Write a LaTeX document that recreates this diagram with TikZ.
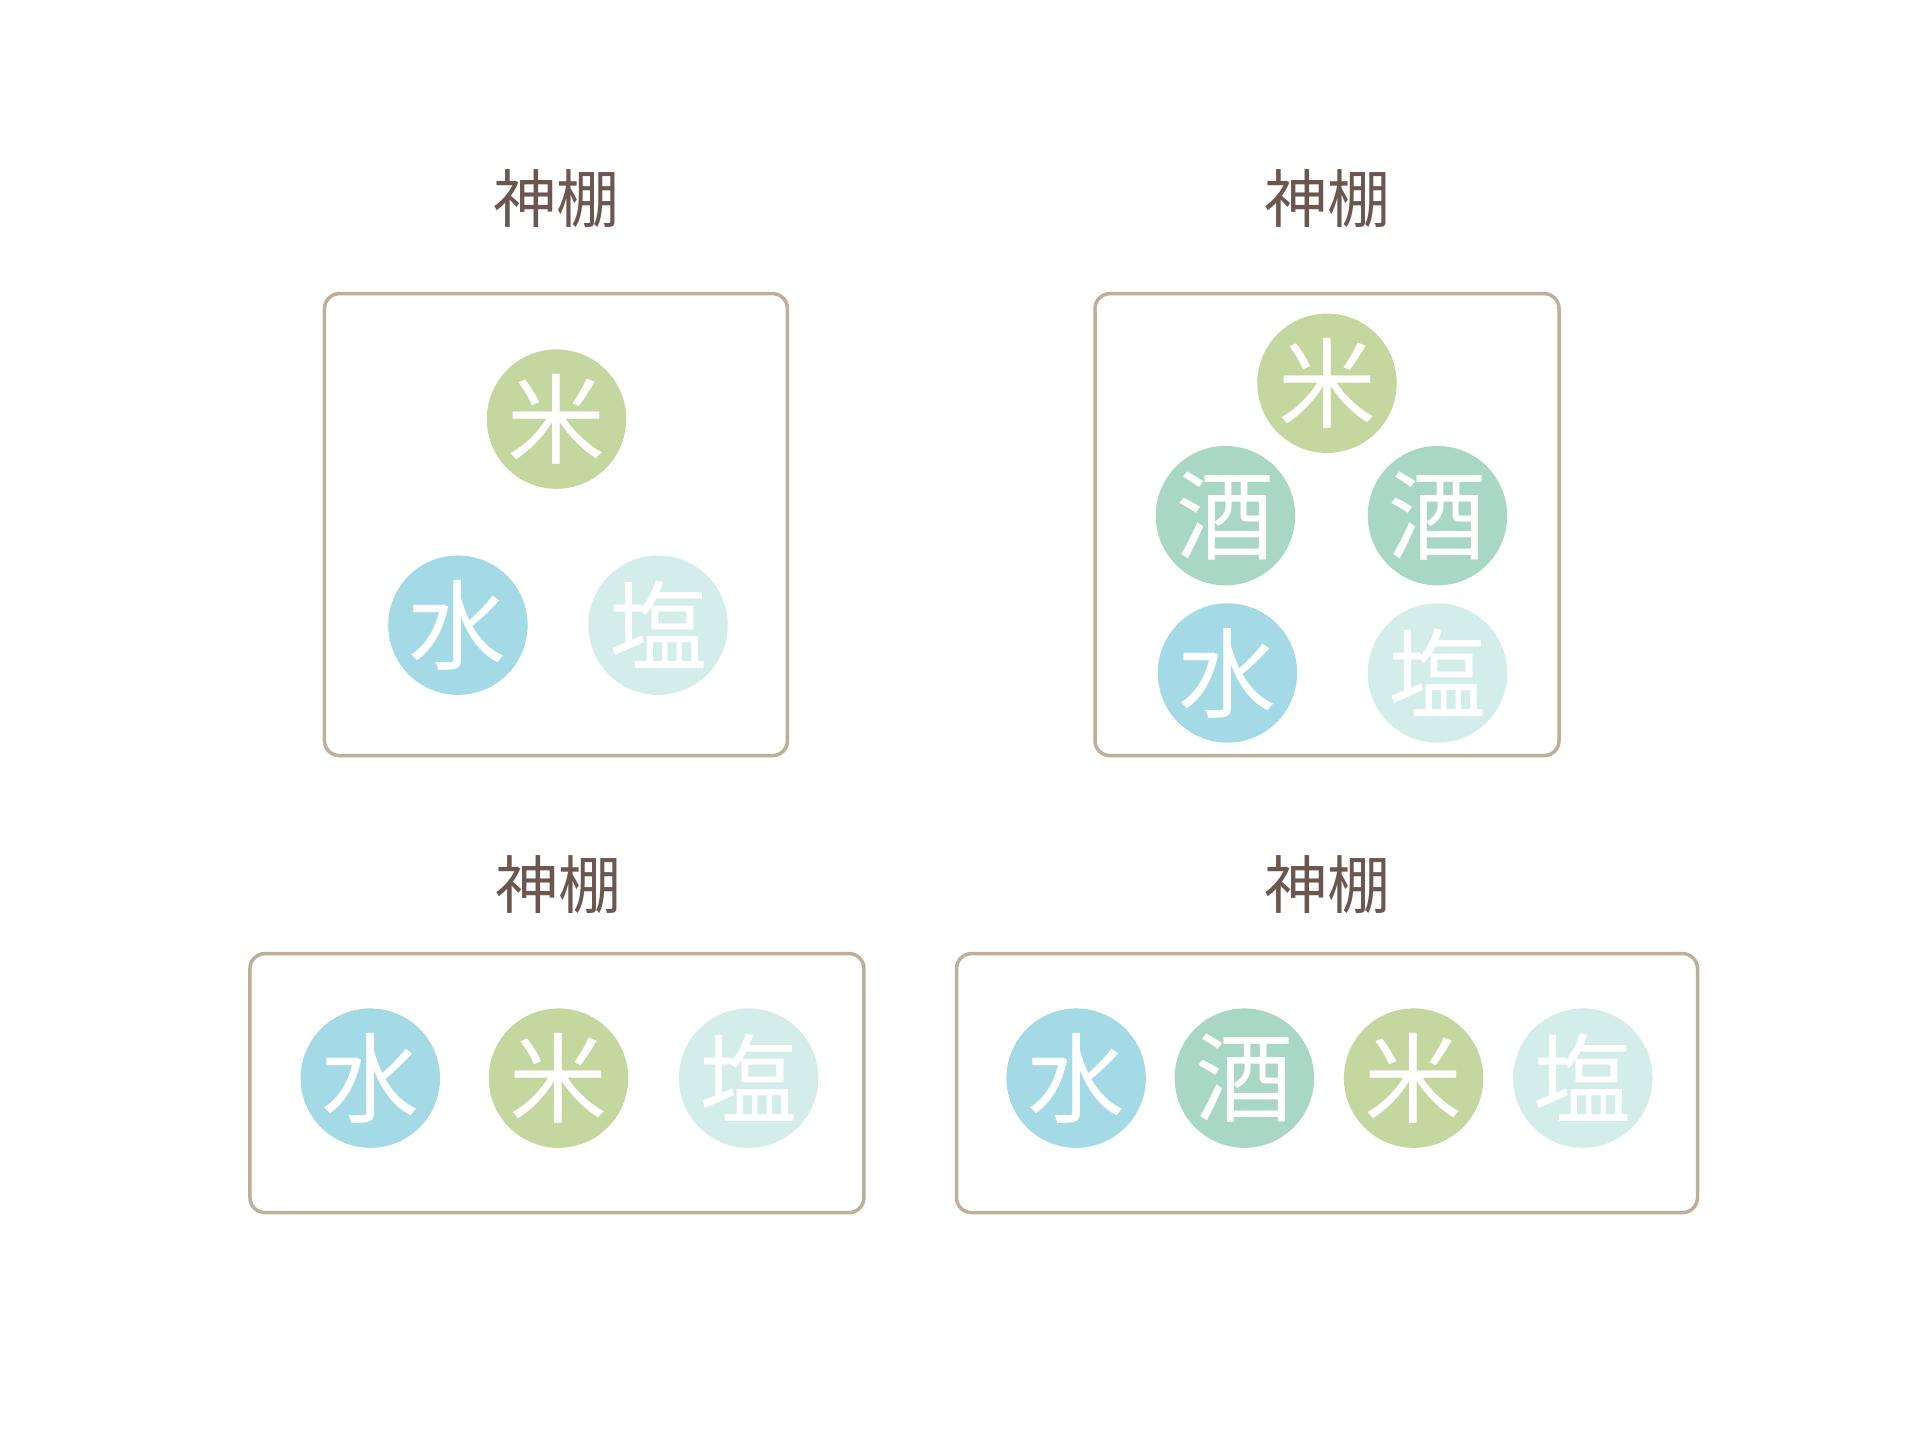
\documentclass[tikz,border=0pt]{standalone}
\usepackage{fontspec}
\newfontfamily\cjk{Noto Sans CJK JP}
\definecolor{rice}{HTML}{C4D79F}
\definecolor{water}{HTML}{A3DAE6}
\definecolor{sake}{HTML}{A9D7C5}
\definecolor{salt}{HTML}{D3EDEA}
\definecolor{frame}{HTML}{BFAE98}
\definecolor{titlec}{HTML}{6B5750}
\tikzset{
  shelf/.style={draw=frame, line width=3.5pt, rounded corners=15pt, inner sep=0pt},
  offering/.style={circle, minimum size=139.4pt, inner sep=0pt, text=white, font=\cjk\fontsize{98}{98}\selectfont},
  title/.style={text=titlec, font=\cjk\fontsize{63}{63}\selectfont, inner sep=0pt}
}
\begin{document}
\begin{tikzpicture}[x=0.9955pt,y=-0.9955pt]
\useasboundingbox (0,0) rectangle (1928.7,1446.5);
\fill[white] (0,0) rectangle (1928.7,1446.5);
% top left
\node[title] (t1) at (559,199) {神棚};
\node[shelf, minimum width=463pt, minimum height=462pt] (b1) at (558.5,527) {};
\node[offering, fill=rice] (b1r) at (559,421) {米};
\node[offering, fill=water] (b1w) at (460,628) {水};
\node[offering, fill=salt] (b1s) at (661,628) {塩};
% top right
\node[title] (t2) at (1333,199) {神棚};
\node[shelf, minimum width=464pt, minimum height=462pt] (b2) at (1333,527) {};
\node[offering, fill=rice] (b2r) at (1333,385) {米};
\node[offering, fill=sake] (b2k1) at (1231,518) {酒};
\node[offering, fill=sake] (b2k2) at (1444,518) {酒};
\node[offering, fill=water] (b2w) at (1233,676) {水};
\node[offering, fill=salt] (b2s) at (1444,676) {塩};
% bottom left
\node[title] (t3) at (561,889) {神棚};
\node[shelf, minimum width=614pt, minimum height=259pt] (b3) at (559.5,1088) {};
\node[offering, fill=water] (b3w) at (372,1083) {水};
\node[offering, fill=rice] (b3r) at (561,1083) {米};
\node[offering, fill=salt] (b3s) at (752,1083) {塩};
% bottom right
\node[title] (t4) at (1333,889) {神棚};
\node[shelf, minimum width=741pt, minimum height=259pt] (b4) at (1333,1088) {};
\node[offering, fill=water] (b4w) at (1081,1083) {水};
\node[offering, fill=sake] (b4k) at (1250,1083) {酒};
\node[offering, fill=rice] (b4r) at (1420,1083) {米};
\node[offering, fill=salt] (b4s) at (1590,1083) {塩};
\end{tikzpicture}
\end{document}
